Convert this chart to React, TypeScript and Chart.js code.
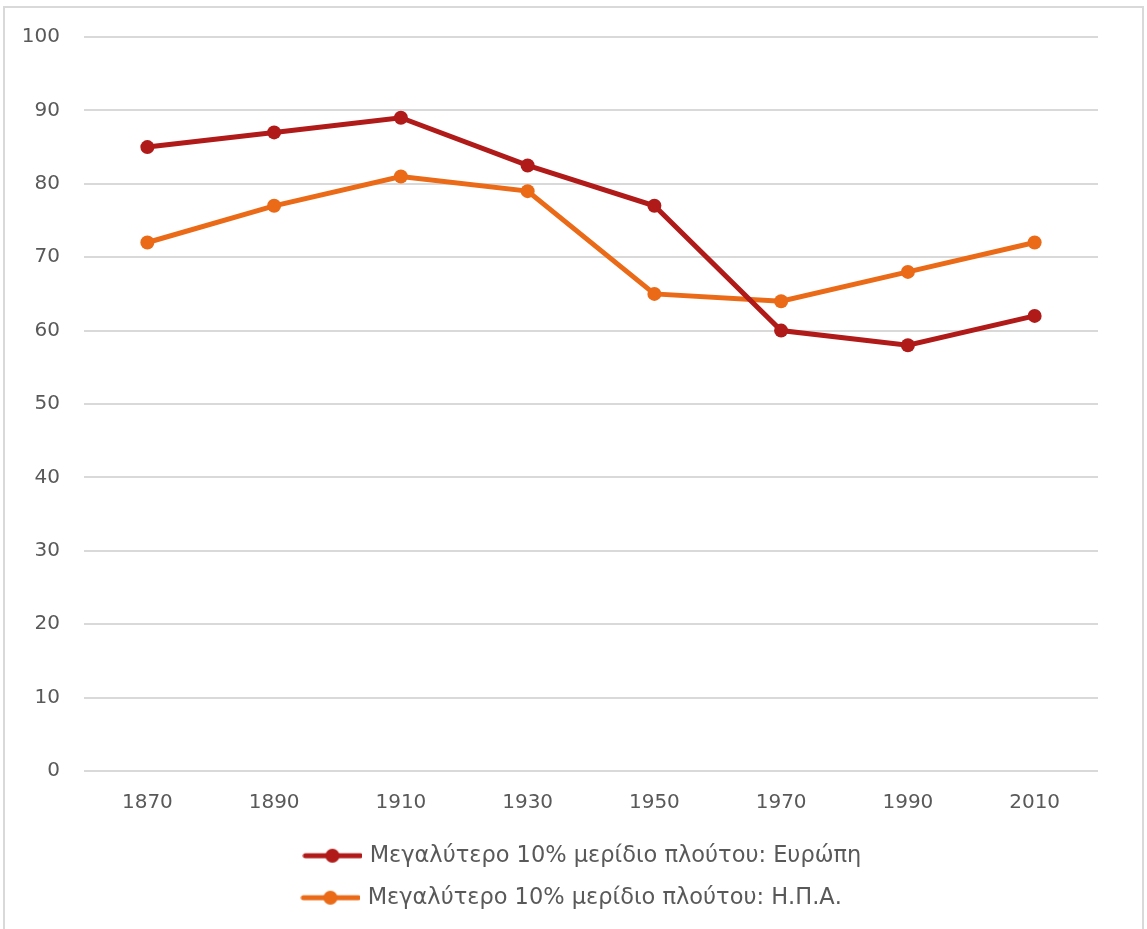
import React, { useEffect, useRef } from "react";
import { Chart, registerables } from "chart.js";

Chart.register(...registerables);

const years = ["1870", "1890", "1910", "1930", "1950", "1970", "1990", "2010"];
const europe = [85, 87, 89, 82.5, 77, 60, 58, 62];
const usa = [72, 77, 81, 79, 65, 64, 68, 72];
const seriesNames = [
  "Μεγαλύτερο 10% μερίδιο πλούτου: Ευρώπη",
  "Μεγαλύτερο 10% μερίδιο πλούτου: Η.Π.Α.",
];
const colors = ["#B01A18", "#EA6A17"];

const FONT = "'DejaVu Sans', sans-serif";
const TEXT = "#595959";
const LEGEND_SIZE = 22.5;

function legendIcon(color: string): HTMLCanvasElement {
  const c = document.createElement("canvas");
  c.width = 60;
  c.height = 16;
  const ctx = c.getContext("2d")!;
  ctx.strokeStyle = color;
  ctx.lineWidth = 5;
  ctx.lineCap = "round";
  ctx.beginPath();
  ctx.moveTo(3, 8);
  ctx.lineTo(58, 8);
  ctx.stroke();
  ctx.fillStyle = color;
  ctx.beginPath();
  ctx.arc(30, 8, 7, 0, Math.PI * 2);
  ctx.fill();
  return c;
}

function padTexts(texts: string[], target: number): string[] {
  const c = document.createElement("canvas").getContext("2d")!;
  c.font = `${LEGEND_SIZE}px ${FONT}`;
  return texts.map((t) => {
    let s = t;
    while (c.measureText(s + " ").width <= target) s += " ";
    return s;
  });
}

export default function App() {
  const ref = useRef<HTMLCanvasElement | null>(null);
  useEffect(() => {
    document.body.style.margin = "0";
    const icons = colors.map(legendIcon);
    const padded = padTexts(seriesNames, 510);
    const chart = new Chart(ref.current!, {
      type: "line",
      data: {
        labels: years,
        datasets: [
          {
            label: seriesNames[0],
            data: europe,
            borderColor: colors[0],
            backgroundColor: colors[0],
            borderWidth: 5,
            pointRadius: 7,
            pointBackgroundColor: colors[0],
            pointBorderWidth: 0,
            tension: 0,
          },
          {
            label: seriesNames[1],
            data: usa,
            borderColor: colors[1],
            backgroundColor: colors[1],
            borderWidth: 5,
            pointRadius: 7,
            pointBackgroundColor: colors[1],
            pointBorderWidth: 0,
            tension: 0,
          },
        ],
      },
      options: {
        animation: false,
        responsive: false,
        layout: { padding: { left: 0, right: 44, top: 0, bottom: 15 } },
        scales: {
          x: {
            offset: true,
            afterFit: (s: any) => {
              s.height -= 10;
            },
            grid: { display: false, drawTicks: false },
            border: { display: false },
            ticks: { color: TEXT, font: { family: FONT, size: 20 }, padding: 20 },
          },
          y: {
            min: 0,
            max: 100,
            afterFit: (s: any) => {
              s.width = 79;
              s.paddingTop = 29;
            },
            ticks: { stepSize: 10, color: TEXT, font: { family: FONT, size: 20 }, padding: 24 },
            grid: { color: "#D9D9D9", lineWidth: 2, drawTicks: false },
            border: { display: false },
          },
        },
        plugins: {
          tooltip: { enabled: false },
          legend: {
            position: "bottom",
            fullSize: false,
            labels: {
              usePointStyle: true,
              pointStyleWidth: 52,
              padding: 19.5,
              color: TEXT,
              font: { family: FONT, size: LEGEND_SIZE },
              generateLabels: (ch: any) =>
                ch.data.datasets.map((ds: any, i: number) => ({
                  text: padded[i],
                  pointStyle: icons[i],
                  fillStyle: colors[i],
                  strokeStyle: colors[i],
                  lineWidth: 0,
                  hidden: false,
                  datasetIndex: i,
                  fontColor: TEXT,
                })),
            },
          },
        },
      },
    });
    return () => chart.destroy();
  }, []);
  return (
    <div
      style={{
        position: "absolute",
        left: 3,
        top: 6,
        width: 1141,
        height: 930,
        border: "2px solid #D9D9D9",
        boxSizing: "border-box",
        background: "#fff",
      }}
    >
      <canvas ref={ref} width={1137} height={926} style={{ display: "block" }} />
    </div>
  );
}
